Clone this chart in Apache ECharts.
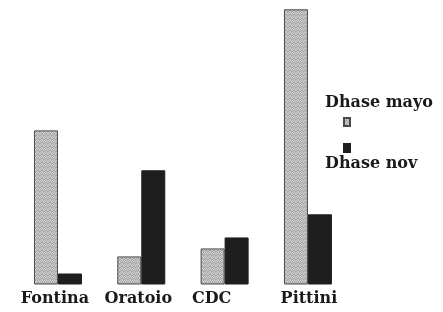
<!DOCTYPE html>
<html>
<head>
<meta charset="utf-8">
<style>
html,body{margin:0;padding:0;background:#fff;}
#chart{width:443px;height:312px;}
</style>
<script src="https://cdn.jsdelivr.net/npm/echarts@6/dist/echarts.min.js"></script>
</head>
<body>
<div id="chart"></div>
<script>
const categories = ['Fontina', 'Oratoio', 'CDC', 'Pittini'];
const seriesNames = ['Dhase mayo', 'Dhase nov'];
const mayoValues = [56, 10.2, 13.1, 100];
const novValues = [4, 41.5, 17.1, 25.5];

// styling only: horizontal label nudges (px)
const labelShift = [-3, -3, -13, 1];

function makePattern() {
  const c = document.createElement('canvas');
  c.width = 4; c.height = 4;
  const ctx = c.getContext('2d');
  ctx.fillStyle = '#a4a4a4';
  ctx.fillRect(0, 0, 4, 4);
  ctx.fillStyle = '#d8d8d8';
  ctx.fillRect(0, 0, 1, 1); ctx.fillRect(1, 1, 1, 1); ctx.fillRect(2, 0, 1, 1); ctx.fillRect(3, 1, 1, 1);
  ctx.fillStyle = '#c6c6c6';
  ctx.fillRect(0, 2, 1, 1); ctx.fillRect(2, 3, 1, 1); ctx.fillRect(1, 3, 1, 1); ctx.fillRect(3, 2, 1, 1);
  return c;
}
const pattern = { image: makePattern(), repeat: 'repeat' };

const fontFam = '"DejaVu Serif", serif';
const legendBase = {
  orient: 'vertical', itemWidth: 6, itemHeight: 8, icon: 'rect',
  formatter: () => '', selectedMode: false, padding: 0,
  textStyle: { fontSize: 1 }
};
const chart = echarts.init(document.getElementById('chart'));
chart.setOption({
  animation: false,
  backgroundColor: '#ffffff',
  grid: { left: 16.3, right: 93.4, top: 9.3, bottom: 27.5 },
  xAxis: {
    type: 'category',
    data: categories.map((c, i) => ({
      value: c,
      textStyle: { padding: [0, Math.max(0, -labelShift[i] * 2), 0, Math.max(0, labelShift[i] * 2)] }
    })),
    axisLine: { show: false },
    axisTick: { show: false },
    axisLabel: { color: '#1a1a1a', fontFamily: fontFam, fontWeight: 'bold', fontSize: 16, margin: 6, interval: 0 }
  },
  yAxis: { type: 'value', min: 0, max: 100, show: false, splitLine: { show: false } },
  legend: [
    Object.assign({}, legendBase, { left: 343, top: 117, data: [seriesNames[0]] }),
    Object.assign({}, legendBase, { left: 343, top: 143, data: [seriesNames[1]] })
  ],
  graphic: [
    { type: 'text', left: 325, top: 95, style: { text: seriesNames[0], font: 'bold 16px ' + fontFam, fill: '#1a1a1a' } },
    { type: 'text', left: 325, top: 156, style: { text: seriesNames[1], font: 'bold 16px ' + fontFam, fill: '#1a1a1a' } }
  ],
  series: [
    {
      name: seriesNames[0], type: 'bar', data: mayoValues, barWidth: 24, barGap: '0%',
      itemStyle: { color: pattern, borderColor: '#4a4a4a', borderWidth: 1 }
    },
    {
      name: seriesNames[1], type: 'bar', data: novValues, barWidth: 24,
      itemStyle: { color: '#1e1e1e', borderColor: '#1e1e1e', borderWidth: 1 }
    }
  ]
});
</script>
</body>
</html>
